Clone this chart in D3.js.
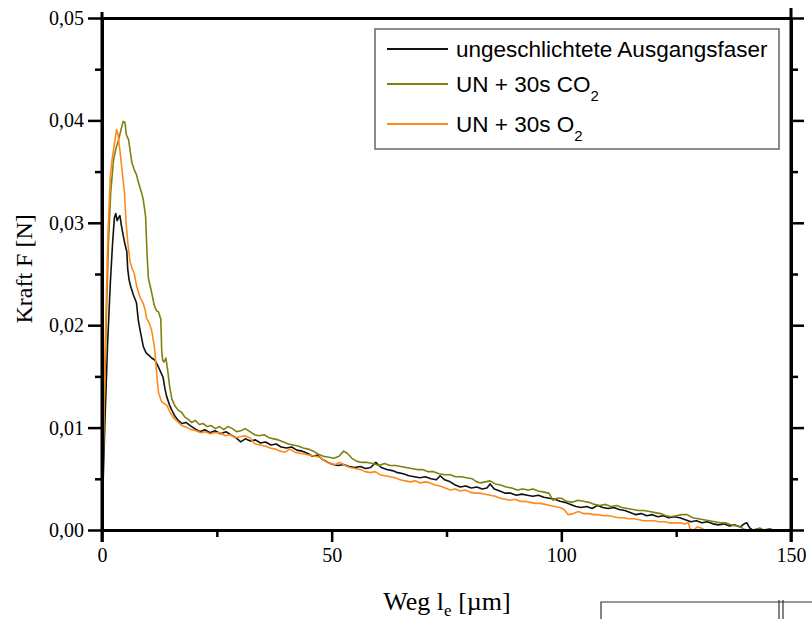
<!DOCTYPE html>
<html>
  <head>
    <meta charset="utf-8" />
    <title>Kraft-Weg-Kurven</title>
    <script src="https://d3js.org/d3.v7.min.js"></script>
    <style>
      body { margin: 0; background: #fff; }
      svg { display: block; }
      .achse text { font-family: "Liberation Serif", "Times New Roman", serif; font-size: 20px; fill: #000; }
      .legende text { font-family: "Liberation Sans", Arial, sans-serif; font-size: 22.5px; fill: #000; }
    </style>
  </head>
  <body>
    <svg id="chart" width="812" height="619"></svg>

    <script>
      var ausgangsfaser = [
        [0,0],[0.2,0.004],[0.6,0.010],[1.2,0.018],[1.8,0.024],[2.3,0.028],[2.7,0.0305],[3.0,0.0309],[3.3,0.0302],[3.6,0.0305],
        [3.9,0.0307],[4.2,0.0298],[4.6,0.0288],[5.0,0.0279],[5.4,0.0272],[5.6,0.0255],[5.9,0.0244],[6.3,0.0237],[6.8,0.0230],[7.5,0.0222],
        [7.9,0.0205],[8.3,0.0195],[9.0,0.0179],[9.6,0.0173],[10.1,0.0171],[10.8,0.0168],[11.5,0.0166],[12.1,0.0161],[12.6,0.0156],[13.3,0.0149],
        [13.7,0.0138],[14.1,0.0130],[14.7,0.0122],[15.2,0.0117],[15.9,0.0111],[16.6,0.0107],[17.4,0.0104],[18.3,0.0105],[19.2,0.0102],[20.2,0.0099],
        [21.3,0.0096],[22.4,0.0098],[23.5,0.0095],[24.6,0.0097],[25.8,0.0094],[27.0,0.0096],[28.0,0.0093],[29.2,0.0090],[30.2,0.0086],[31.2,0.0089],
        [32.3,0.0087],[33.4,0.0088],[34.5,0.0085],[35.6,0.0086],[36.8,0.0083],[37.9,0.0084],[39.0,0.0081],[40.2,0.0080],[41.3,0.0081],[42.4,0.0078],
        [43.6,0.0077],[44.7,0.0075],[45.8,0.0072],[46.9,0.0073],[48.0,0.0069],[49.2,0.0066],[50.3,0.0064],[51.4,0.0063],[52.6,0.0064],[53.8,0.0062],
        [55.0,0.0061],[56.2,0.0062],[57.4,0.0060],[58.5,0.0061],[59.6,0.0066],[60.8,0.0061],[62.0,0.0059],[63.2,0.0058],[64.4,0.0056],[65.6,0.0055],
        [66.8,0.0053],[68.0,0.0052],[69.2,0.0051],[70.4,0.0052],[71.6,0.0050],[72.8,0.0049],[73.6,0.0053],[74.6,0.0049],[75.8,0.0047],[76.9,0.0044],
        [78.0,0.0042],[79.2,0.0043],[80.4,0.0041],[81.6,0.0042],[82.8,0.0040],[83.8,0.0041],[84.5,0.0045],[85.4,0.0040],[86.6,0.0038],[87.8,0.0036],
        [89.0,0.0036],[90.2,0.0034],[91.4,0.0035],[92.6,0.0034],[93.8,0.0033],[95.0,0.0034],[96.2,0.0032],[97.4,0.0031],[98.6,0.0030],[99.7,0.0028],
        [100.8,0.0027],[102.0,0.0025],[103.2,0.0023],[104.3,0.0022],[105.5,0.0023],[106.7,0.0021],[107.9,0.0024],[109.0,0.0022],[110.2,0.0021],[111.4,0.0022],
        [112.6,0.0020],[113.8,0.0019],[115.0,0.0017],[116.2,0.0015],[117.4,0.0016],[118.6,0.0014],[119.8,0.0015],[121.0,0.0013],[122.2,0.0014],[123.4,0.0012],
        [124.6,0.0013],[125.8,0.0012],[127.0,0.0010],[128.2,0.0008],[129.4,0.0009],[130.6,0.0007],[131.8,0.0008],[133.0,0.0006],[134.2,0.0005],[135.4,0.0006],
        [136.6,0.0004],[137.8,0.0005],[139.0,0.0003],[139.8,0.0006],[140.4,0.0007],[141.0,0.0002],[141.6,0.0000],[143.0,0.0001],[144.0,0.0000],[145.4,0.0001],
        [146.2,0]
      ];

      var co2 = [
        [0,0],[0.2,0.005],[0.5,0.012],[0.9,0.020],[1.4,0.028],[1.9,0.033],[2.5,0.0361],[3.0,0.0372],[3.6,0.0381],[4.2,0.0392],
        [4.6,0.0399],[5.0,0.0398],[5.3,0.0386],[5.8,0.0381],[6.2,0.0368],[6.5,0.0359],[7.0,0.0352],[7.5,0.0347],[7.9,0.0340],[8.3,0.0334],
        [8.7,0.0328],[9.0,0.0322],[9.5,0.0306],[9.8,0.0270],[10.1,0.0246],[10.5,0.0238],[10.8,0.0232],[11.4,0.0219],[11.9,0.0214],[12.3,0.0213],
        [12.8,0.0206],[13.0,0.0175],[13.2,0.0166],[13.5,0.0164],[13.9,0.0168],[14.3,0.0156],[14.7,0.0141],[15.2,0.0128],[15.9,0.0121],[16.6,0.0117],
        [17.3,0.0115],[18.1,0.0110],[18.8,0.0108],[19.5,0.0105],[20.3,0.0107],[21.2,0.0103],[22.0,0.0104],[22.9,0.0101],[23.8,0.0102],[24.7,0.0099],
        [25.6,0.0101],[26.5,0.0098],[27.4,0.0101],[28.4,0.0099],[29.3,0.0096],[30.2,0.0097],[31.2,0.0099],[32.2,0.0096],[33.2,0.0093],[34.2,0.0092],
        [35.3,0.0093],[36.4,0.0090],[37.4,0.0089],[38.4,0.0088],[39.5,0.0086],[40.6,0.0084],[41.6,0.0083],[42.7,0.0082],[43.8,0.0080],[44.9,0.0079],
        [46.0,0.0077],[47.1,0.0074],[48.2,0.0072],[49.4,0.0071],[50.5,0.0070],[51.6,0.0072],[52.6,0.0077],[53.4,0.0075],[54.4,0.0070],[55.5,0.0067],
        [56.6,0.0066],[57.8,0.0066],[59.0,0.0065],[60.3,0.0063],[61.5,0.0065],[62.7,0.0063],[63.9,0.0063],[65.0,0.0062],[66.2,0.0061],[67.4,0.0060],
        [68.6,0.0059],[69.8,0.0059],[71.0,0.0057],[72.2,0.0057],[73.4,0.0055],[74.6,0.0054],[75.8,0.0054],[77.0,0.0052],[78.2,0.0052],[79.4,0.0051],
        [80.6,0.0050],[81.6,0.0047],[82.4,0.0046],[83.4,0.0047],[84.5,0.0048],[85.6,0.0045],[86.8,0.0044],[88.0,0.0042],[89.2,0.0041],[90.4,0.0039],
        [91.6,0.0040],[92.8,0.0039],[93.8,0.0040],[95.0,0.0038],[96.2,0.0037],[97.3,0.0036],[98.2,0.0029],[99.0,0.0031],[100.0,0.0031],[101.2,0.0028],
        [102.4,0.0027],[103.6,0.0029],[104.8,0.0028],[106.0,0.0027],[107.2,0.0025],[108.4,0.0024],[109.6,0.0025],[110.8,0.0023],[112.0,0.0024],[113.2,0.0022],
        [114.4,0.0021],[115.6,0.0020],[116.8,0.0019],[118.0,0.0019],[119.2,0.0018],[120.4,0.0017],[121.6,0.0016],[122.8,0.0014],[123.8,0.0013],[125.0,0.0014],
        [126.2,0.0015],[127.4,0.0015],[128.6,0.0012],[129.8,0.0011],[131.0,0.0010],[132.2,0.0009],[133.4,0.0008],[134.6,0.0007],[135.8,0.0007],[137.0,0.0005],
        [138.2,0.0004],[139.0,0.0003],[139.6,0.0001],[140.4,0],[142.0,0],[143.2,0.0002],[144.0,0]
      ];

      var o2 = [
        [0,0],[0.2,0.006],[0.5,0.014],[0.9,0.022],[1.3,0.029],[1.8,0.0345],[2.2,0.0362],[2.6,0.0374],[3.0,0.0386],[3.2,0.0391],
        [3.5,0.0386],[3.9,0.0371],[4.3,0.0354],[4.9,0.0329],[5.2,0.0303],[5.6,0.0281],[6.1,0.0262],[6.6,0.0255],[7.0,0.0251],[7.6,0.0237],
        [8.3,0.0227],[8.9,0.0222],[9.4,0.0215],[9.7,0.0207],[10.3,0.0202],[10.8,0.0195],[11.4,0.0179],[11.9,0.0153],[12.3,0.0134],[13.0,0.0125],
        [14.1,0.0122],[14.8,0.0115],[15.5,0.0110],[16.4,0.0106],[17.4,0.0102],[18.5,0.0100],[19.5,0.0098],[20.5,0.0097],[21.5,0.0095],[22.5,0.0096],
        [23.5,0.0094],[24.5,0.0095],[25.7,0.0095],[26.8,0.0092],[27.9,0.0093],[29.0,0.0090],[30.0,0.0091],[31.0,0.0092],[32.2,0.0090],[33.3,0.0084],
        [34.4,0.0083],[35.5,0.0082],[36.6,0.0080],[37.7,0.0079],[38.8,0.0077],[39.8,0.0076],[40.9,0.0079],[42.0,0.0076],[43.1,0.0075],[44.2,0.0074],
        [45.3,0.0073],[46.4,0.0072],[47.5,0.0071],[48.6,0.0067],[49.6,0.0065],[50.7,0.0064],[51.8,0.0066],[52.9,0.0063],[54.0,0.0061],[55.1,0.0060],
        [56.2,0.0059],[57.3,0.0057],[58.4,0.0056],[59.5,0.0057],[60.5,0.0054],[61.6,0.0053],[62.7,0.0052],[63.8,0.0051],[64.9,0.0049],[66.0,0.0048],
        [67.1,0.0047],[68.2,0.0048],[69.3,0.0046],[70.4,0.0047],[71.4,0.0046],[72.5,0.0044],[73.6,0.0043],[74.7,0.0041],[75.8,0.0039],[76.9,0.0040],
        [78.0,0.0038],[79.1,0.0039],[80.1,0.0037],[81.2,0.0036],[82.3,0.0036],[83.4,0.0035],[84.5,0.0034],[85.6,0.0033],[86.7,0.0031],[87.8,0.0030],
        [88.8,0.0029],[89.9,0.0030],[91.0,0.0028],[92.1,0.0028],[93.2,0.0027],[94.3,0.0026],[95.4,0.0026],[96.5,0.0025],[97.5,0.0024],[98.6,0.0023],
        [99.7,0.0022],[100.6,0.0020],[101.5,0.0015],[102.6,0.0016],[103.7,0.0018],[104.8,0.0016],[105.9,0.0016],[107.0,0.0015],[108.1,0.0015],[109.2,0.0014],
        [110.3,0.0014],[111.4,0.0013],[112.5,0.0012],[113.6,0.0012],[114.7,0.0011],[115.8,0.0011],[116.9,0.0010],[118.0,0.0009],[119.1,0.0009],[120.2,0.0009],
        [121.3,0.0008],[122.4,0.0008],[123.5,0.0007],[124.6,0.0007],[125.7,0.0007],[126.8,0.0006],[127.7,0.0007],[128.0,0.0001],[128.8,0],[129.6,0.0003],
        [130.4,0.0002],[131.2,0]
      ];

      // Legende und Achsen
      var namen = ["ungeschlichtete Ausgangsfaser", "UN + 30s CO", "UN + 30s O"];
      var indizes = ["", "2", "2"];
      var xTicks = [0, 50, 100, 150];
      var xMinor = [25, 75, 125];
      var yTicks = [0, 0.01, 0.02, 0.03, 0.04, 0.05];
      var yMinor = [0.005, 0.015, 0.025, 0.035, 0.045];

      var serien = [ausgangsfaser, co2, o2];
      var farbe = d3.scaleOrdinal().domain([0, 1, 2]).range(["#111111", "#808010", "#ff8a1c"]);

      var svg = d3.select("#chart");

      var x = d3.scaleLinear().domain([0, 150]).range([102, 791]);
      var y = d3.scaleLinear().domain([0, 0.05]).range([530, 18]);

      var komma = d3.formatLocale({decimal: ",", thousands: ".", grouping: [3], currency: ["", " €"]}).format(".2f");

      // Kurven
      var linie = d3.line()
          .x(function(d) { return x(d[0]); })
          .y(function(d) { return y(d[1]); });

      svg.append("g")
          .selectAll("path")
          .data(serien)
          .join("path")
          .attr("d", linie)
          .attr("fill", "none")
          .attr("stroke", function(d, i) { return farbe(i); })
          .attr("stroke-width", 1.6)
          .attr("stroke-linejoin", "round");

      // Achsen: Hauptstriche + Nebenstriche
      function achse(gen, werte, laenge, beschriftet) {
        var a = gen.tickValues(werte).tickSize(laenge).tickSizeOuter(0);
        if (beschriftet) { a.tickPadding(4); } else { a.tickFormat(""); }
        return a;
      }

      var links = svg.append("g").attr("class", "achse").attr("transform", "translate(102,0)");
      links.call(achse(d3.axisLeft(y), yTicks, 14, true).tickFormat(komma));
      links.append("g").call(achse(d3.axisLeft(y), yMinor, 7, false));

      var rechts = svg.append("g").attr("class", "achse").attr("transform", "translate(791,0)");
      rechts.call(achse(d3.axisRight(y), yTicks, 13, false));
      rechts.append("g").call(achse(d3.axisRight(y), yMinor, 7, false));

      var unten = svg.append("g").attr("class", "achse").attr("transform", "translate(0,530)");
      unten.call(achse(d3.axisBottom(x), xTicks, 12, true).tickPadding(6));
      unten.append("g").call(achse(d3.axisBottom(x), xMinor, 7, false));

      var oben = svg.append("g").attr("class", "achse").attr("transform", "translate(0,18)");
      oben.call(d3.axisTop(x).tickValues([]).tickSizeOuter(0));

      svg.selectAll(".achse .domain").attr("stroke", "#000").attr("stroke-width", 3);
      svg.selectAll(".achse .tick line").attr("stroke", "#000").attr("stroke-width", 2.5);

      // Überstand der senkrechten Achsen
      svg.append("line").attr("x1", 102).attr("x2", 102).attr("y1", y(0.05) - 6).attr("y2", y(0) + 12)
          .attr("stroke", "#000").attr("stroke-width", 3);
      svg.append("line").attr("x1", 791).attr("x2", 791).attr("y1", y(0.05) - 10).attr("y2", y(0) + 12)
          .attr("stroke", "#000").attr("stroke-width", 3);

      // Achsentitel
      svg.append("text")
          .attr("transform", "translate(32," + y(0.0255) + ") rotate(-90)")
          .attr("text-anchor", "middle")
          .style("font-family", "'Liberation Serif', 'Times New Roman', serif")
          .style("font-size", "24px")
          .text("Kraft F [N]");

      var xTitel = svg.append("text")
          .attr("x", 447)
          .attr("y", 610)
          .attr("text-anchor", "middle")
          .style("font-family", "'Liberation Serif', 'Times New Roman', serif")
          .style("font-size", "26px");
      xTitel.append("tspan").text("Weg l");
      xTitel.append("tspan").attr("dy", 6).style("font-size", "17px").text("e");
      xTitel.append("tspan").attr("dy", -6).text(" [µm]");

      // Legende
      var legende = svg.append("g").attr("class", "legende");
      legende.append("rect")
          .attr("x", 375).attr("y", 29).attr("width", 404).attr("height", 120)
          .attr("fill", "#fff").attr("stroke", "#666").attr("stroke-width", 1.5);

      var zeilen = legende.selectAll("g.zeile")
          .data(namen)
          .join("g")
          .attr("class", "zeile")
          .attr("transform", function(d, i) { return "translate(387," + [49, 84, 124][i] + ")"; });

      zeilen.append("line")
          .attr("x1", 0).attr("x2", 61)
          .attr("stroke", function(d, i) { return farbe(i); })
          .attr("stroke-width", 1.8);

      var lt = zeilen.append("text").attr("x", 69).attr("y", 8);
      lt.append("tspan").text(function(d) { return d; });
      lt.append("tspan")
          .attr("dy", 9)
          .style("font-size", "15px")
          .text(function(d, i) { return indizes[i]; });

      // Rand der nächsten Abbildung unten rechts
      var rand = svg.append("g").attr("fill", "none").attr("stroke", "#333").attr("stroke-width", 1.2);
      rand.append("polyline").attr("points", "601,619 601,602 812,602");
      rand.append("line").attr("x1", 779).attr("x2", 779).attr("y1", 600).attr("y2", 619);
      rand.append("line").attr("x1", 783).attr("x2", 783).attr("y1", 600).attr("y2", 619);
    </script>
  </body>
</html>
